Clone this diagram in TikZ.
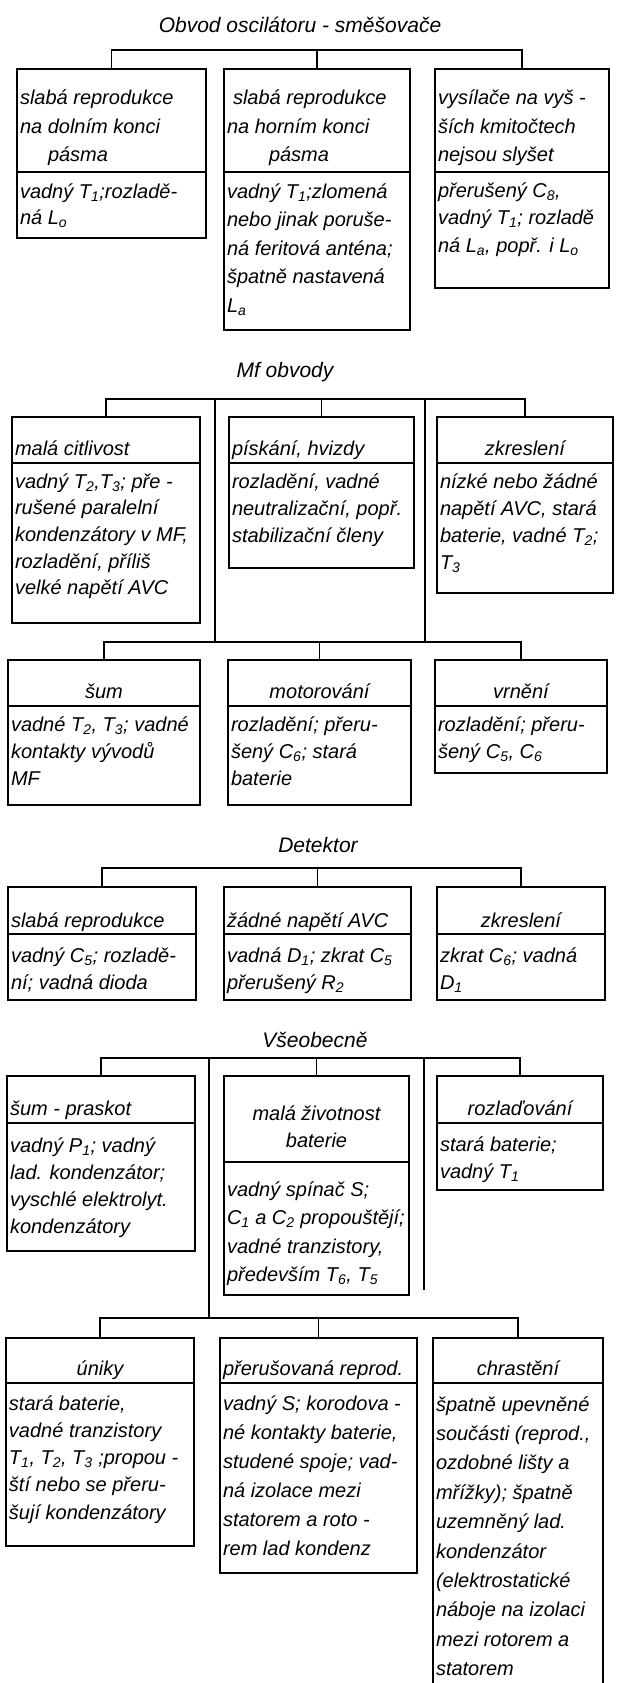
\documentclass[tikz,border=0pt]{standalone}
\usepackage{fontspec}
\setmainfont{Liberation Sans}
\newcommand\sbs[1]{\textsubscript{#1}}
% header: height, width, skip, bottom depth, text
\newcommand\hd[5]{\parbox[c][#1][b]{#2}{\fontsize{20}{#3}\selectfont\raggedright #5\rule[-#4]{0pt}{#4}}}
% body: height, width, skip, first strut, text
\newcommand\bd[5]{\parbox[c][#1][t]{#2}{\fontsize{20}{#3}\selectfont\raggedright\rule{0pt}{#4}#5}}
\tikzset{
  bx/.style={draw, line width=1.8pt, inner xsep=3pt, inner ysep=0pt, outer sep=0pt, anchor=north west, font=\fontsize{20}{27}\selectfont\itshape},
  cn/.style={line width=1.3pt},
  ttl/.style={inner sep=0pt, font=\fontsize{21}{27}\selectfont\itshape}
}
\begin{document}
\begin{tikzpicture}[x=1pt,y=-1pt]
\useasboundingbox[fill=white] (0,0) rectangle (623,1683);

% ---------- Section 1
\node[ttl] (t1) at (300,25) {Obvod oscilátoru - směšovače};
\node[bx] (A1h) at (17,69) {\hd{93pt}{183pt}{28.5pt}{10pt}{slabá reprodukce\\na dolním konci\\\hspace*{28pt}pásma}};
\node[bx] (A1b) at (A1h.south west) {\bd{66pt}{183pt}{26pt}{26pt}{vadný T\sbs{1};rozladě-\\ná L\sbs{o}}};
\node[bx] (A2h) at (224,69) {\hd{93pt}{180pt}{28.5pt}{10pt}{\hspace*{6pt}slabá reprodukce\\na horním konci\\\hspace*{42pt}pásma}};
\node[bx] (A2b) at (A2h.south west) {\bd{158pt}{180pt}{28.5pt}{26pt}{vadný T\sbs{1};zlomená\\nebo jinak poruše-\\ná feritová anténa;\\špatně nastavená\\L\sbs{a}}};
\node[bx] (A3h) at (435,69) {\hd{93pt}{168pt}{28.5pt}{10pt}{vysílače na vyš -\\ších kmitočtech\\nejsou slyšet}};
\node[bx] (A3b) at (A3h.south west) {\bd{116pt}{168pt}{27.5pt}{25pt}{přerušený C\sbs{8},\\vadný T\sbs{1}; rozladě\\ná L\sbs{a}, popř. i L\sbs{o}}};
\coordinate (s1) at (321,50);
\draw[cn] (A1h.north) |- (s1) -| (A3h.north);
\draw[cn] (A2h.north) -- (A2h.north |- s1);

% ---------- Section 2
\node[ttl] (t2) at (285,372) {Mf obvody};
\node[bx] (B1h) at (12,417) {\hd{38pt}{182pt}{27pt}{8pt}{malá citlivost}};
\node[bx] (B1b) at (B1h.south west) {\bd{160pt}{182pt}{26.7pt}{25pt}{vadný T\sbs{2},T\sbs{3}; pře -\\rušené paralelní\\kondenzátory v MF,\\rozladění, příliš\\velké napětí AVC}};
\node[bx] (B2h) at (229,417) {\hd{38pt}{179pt}{27pt}{8pt}{pískání, hvizdy}};
\node[bx] (B2b) at (B2h.south west) {\bd{105pt}{179pt}{27pt}{25pt}{rozladění, vadné\\neutralizační, popř.\\stabilizační členy}};
\node[bx] (B3h) at (437,417) {\hd{38pt}{170pt}{27pt}{8pt}{\centering zkreslení}};
\node[bx] (B3b) at (B3h.south west) {\bd{130pt}{170pt}{27pt}{25pt}{nízké nebo žádné\\napětí AVC, stará\\baterie, vadné T\sbs{2};\\T\sbs{3}}};
\coordinate (s2) at (321,399);
\draw[cn] (B1h.north) |- (s2) -| (B3h.north);
\draw[cn] (B2h.north) -- (B2h.north |- s2);

\node[bx] (C1h) at (8,660) {\hd{38pt}{186pt}{27pt}{8pt}{\centering šum}};
\node[bx] (C1b) at (C1h.south west) {\bd{99pt}{186pt}{27pt}{25pt}{vadné T\sbs{2}, T\sbs{3}; vadné\\kontakty vývodů\\MF}};
\node[bx] (C2h) at (228,660) {\hd{38pt}{177pt}{27pt}{8pt}{\centering motorování}};
\node[bx] (C2b) at (C2h.south west) {\bd{99pt}{177pt}{27pt}{25pt}{rozladění; přeru-\\šený C\sbs{6}; stará\\baterie}};
\node[bx] (C3h) at (435,660) {\hd{38pt}{166pt}{27pt}{8pt}{\centering vrnění}};
\node[bx] (C3b) at (C3h.south west) {\bd{67pt}{166pt}{27pt}{25pt}{rozladění; přeru-\\šený C\sbs{5}, C\sbs{6}}};
\coordinate (s3) at (321,642);
\draw[cn] (C1h.north) |- (s3) -| (C3h.north);
\draw[cn] (C2h.north) -- (C2h.north |- s3);
\coordinate (v1) at (215,399);
\coordinate (v2) at (425,399);
\draw[cn] (v1) -- (v1 |- s3);
\draw[cn] (v2) -- (v2 |- s3);

% ---------- Section 3
\node[ttl] (t3) at (318,845) {Detektor};
\node[bx] (D1h) at (8,887) {\hd{40pt}{182pt}{27pt}{7pt}{slabá reprodukce}};
\node[bx] (D1b) at (D1h.south west) {\bd{66pt}{182pt}{27pt}{28pt}{vadný C\sbs{5}; rozladě-\\ní; vadná dioda}};
\node[bx] (D2h) at (224,887) {\hd{40pt}{181pt}{27pt}{7pt}{žádné napětí AVC}};
\node[bx] (D2b) at (D2h.south west) {\bd{66pt}{181pt}{27pt}{28pt}{vadná D\sbs{1}; zkrat C\sbs{5}\\přerušený R\sbs{2}}};
\node[bx] (D3h) at (437,887) {\hd{40pt}{162pt}{27pt}{7pt}{\centering zkreslení}};
\node[bx] (D3b) at (D3h.south west) {\bd{66pt}{162pt}{27pt}{28pt}{zkrat C\sbs{6}; vadná\\D\sbs{1}}};
\coordinate (s4) at (321,868);
\draw[cn] (D1h.north) |- (s4) -| (D3h.north);
\draw[cn] (D2h.north) -- (D2h.north |- s4);

% ---------- Section 4
\node[ttl] (t4) at (315,1040) {Všeobecně};
\node[bx] (E1h) at (7,1076) {\hd{39pt}{182pt}{27pt}{8pt}{šum - praskot}};
\node[bx] (E1b) at (E1h.south west) {\bd{128pt}{182pt}{27pt}{29pt}{vadný P\sbs{1}; vadný\\lad. kondenzátor;\\vyschlé elektrolyt.\\kondenzátory}};
\node[bx] (E2h) at (224,1076) {\hd{71pt}{179pt}{27pt}{15pt}{\centering malá životnost\\baterie}};
\node[bx] (E2b) at (E2h.south west) {\bd{133pt}{179pt}{28.5pt}{34pt}{vadný spínač S;\\C\sbs{1} a C\sbs{2} propouštějí;\\vadné tranzistory,\\především T\sbs{6}, T\sbs{5}}};
\node[bx] (E3h) at (437,1076) {\hd{39pt}{160pt}{27pt}{8pt}{\centering rozlaďování}};
\node[bx] (E3b) at (E3h.south west) {\bd{67pt}{160pt}{27pt}{28pt}{stará baterie;\\vadný T\sbs{1}}};
\coordinate (s5) at (321,1058);
\draw[cn] (E1h.north) |- (s5) -| (E3h.north);
\draw[cn] (E2h.north) -- (E2h.north |- s5);

\node[bx] (F1h) at (6,1338) {\hd{37pt}{182pt}{27pt}{8pt}{\centering úniky}};
\node[bx] (F1b) at (F1h.south west) {\bd{163pt}{182pt}{27.3pt}{27pt}{stará baterie,\\vadné tranzistory\\T\sbs{1}, T\sbs{2}, T\sbs{3} ;propou -\\ští nebo se přeru-\\šují kondenzátory}};
\node[bx] (F2h) at (220,1338) {\hd{37pt}{191pt}{27pt}{8pt}{přerušovaná reprod.}};
\node[bx] (F2b) at (F2h.south west) {\bd{190pt}{191pt}{29pt}{27pt}{vadný S; korodova -\\né kontakty baterie,\\studené spoje; vad-\\ná izolace mezi\\statorem a roto -\\rem lad kondenz}};
\node[bx] (F3h) at (433,1338) {\hd{37pt}{164pt}{27pt}{8pt}{\centering chrastění}};
\node[bx] (F3b) at (F3h.south west) {\bd{305pt}{164pt}{29.4pt}{28pt}{špatně upevněné\\součásti (reprod.,\\ozdobné lišty a\\mřížky); špatně\\uzemněný lad.\\kondenzátor\\(elektrostatické\\náboje na izolaci\\mezi rotorem a\\statorem}};
\coordinate (s6) at (315,1318);
\draw[cn] (F1h.north) |- (s6) -| (F3h.north);
\draw[cn] (F2h.north) -- (F2h.north |- s6);
\coordinate (v3) at (209,1058);
\coordinate (v4) at (424,1058);
\coordinate (v4e) at (424,1290);
\draw[cn] (v3) -- (v3 |- s6);
\draw[cn] (v4) -- (v4e);
\end{tikzpicture}
\end{document}
